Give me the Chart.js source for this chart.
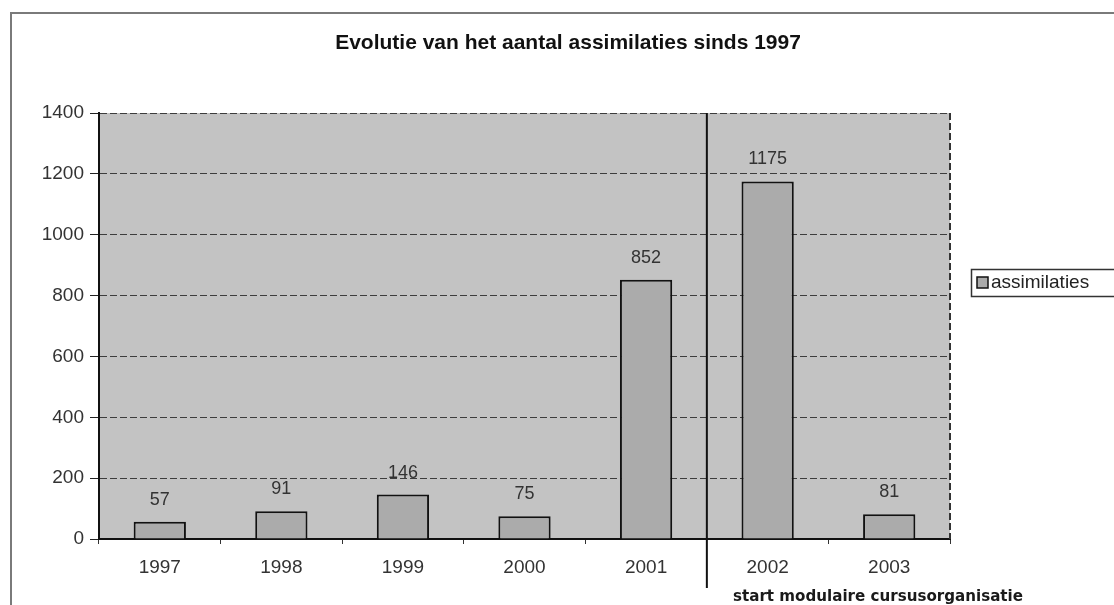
<!DOCTYPE html>
<html>
<head>
<meta charset="utf-8">
<script src="https://cdn.jsdelivr.net/npm/chart.js@4/dist/chart.umd.min.js"></script>
<style>
  html, body { margin: 0; padding: 0; background: #ffffff; }
  #wrap { width: 1114px; height: 605px; position: relative; }
</style>
</head>
<body>
<div id="wrap"><canvas id="chartAssimilaties"></canvas></div>
<script>
// Gegevens
var jaren = ['1997', '1998', '1999', '2000', '2001', '2002', '2003'];
var assimilaties = [57, 91, 146, 75, 852, 1175, 81];
var reeksNaam = 'assimilaties';
var titel = 'Evolutie van het aantal assimilaties sinds 1997';
var notitie = 'start modulaire cursusorganisatie';
var yTicks = [0, 200, 400, 600, 800, 1000, 1200, 1400];

var FONT = '"Liberation Sans", Arial, sans-serif';

// plotvlak grijs
var achtergrondPlugin = {
  id: 'achtergrond',
  beforeDraw: function(chart) {
    var ctx = chart.ctx, a = chart.chartArea;
    ctx.save();
    ctx.fillStyle = '#c3c3c3';
    ctx.fillRect(a.left, a.top, a.right - a.left, a.bottom - a.top);
    ctx.restore();
  }
};

// waarden boven de staven
var labelsPlugin = {
  id: 'waardeLabels',
  afterDatasetsDraw: function(chart) {
    var ctx = chart.ctx;
    var meta = chart.getDatasetMeta(0);
    ctx.save();
    ctx.font = '18px ' + FONT;
    ctx.fillStyle = '#333333';
    ctx.textAlign = 'center';
    ctx.textBaseline = 'middle';
    meta.data.forEach(function(bar, i) {
      ctx.fillText(String(assimilaties[i]), bar.x, bar.y - 22);
    });
    ctx.restore();
  }
};

// titel, scheidingslijn, notitie, legende, buitenkader
var extraPlugin = {
  id: 'extra',
  afterDraw: function(chart) {
    var ctx = chart.ctx, a = chart.chartArea;
    var x = chart.scales.x;
    ctx.save();

    // buitenkader
    ctx.strokeStyle = '#7a7a7a';
    ctx.lineWidth = 2;
    ctx.beginPath();
    ctx.moveTo(11, 605);
    ctx.lineTo(11, 13);
    ctx.lineTo(1114, 13);
    ctx.stroke();

    // rechterrand plotvlak (gestreept)
    ctx.strokeStyle = '#333333';
    ctx.lineWidth = 2;
    ctx.setLineDash([7, 3]);
    ctx.beginPath();
    ctx.moveTo(a.right, a.top);
    ctx.lineTo(a.right, a.bottom);
    ctx.stroke();
    ctx.setLineDash([]);

    // titel
    ctx.fillStyle = '#111111';
    ctx.font = 'bold 21px ' + FONT;
    ctx.textAlign = 'center';
    ctx.textBaseline = 'middle';
    ctx.fillText(titel, 568, 43);

    // scheidingslijn tussen 2001 en 2002
    var xs = (x.getPixelForValue(4) + x.getPixelForValue(5)) / 2;
    ctx.strokeStyle = '#111111';
    ctx.lineWidth = 2;
    ctx.beginPath();
    ctx.moveTo(xs, a.top);
    ctx.lineTo(xs, 588);
    ctx.stroke();

    // notitie onder 2002-2003
    ctx.font = 'bold 16px "DejaVu Sans", sans-serif';
    var w = ctx.measureText(notitie).width;
    ctx.save();
    ctx.translate(733, 597);
    ctx.scale(290 / w, 1);
    ctx.textAlign = 'left';
    ctx.fillStyle = '#1a1a1a';
    ctx.fillText(notitie, 0, 0);
    ctx.restore();

    // legende
    ctx.fillStyle = '#ffffff';
    ctx.fillRect(971, 269, 150, 27);
    ctx.strokeStyle = '#333333';
    ctx.lineWidth = 1.5;
    ctx.strokeRect(971.5, 269.5, 150, 27);
    ctx.fillStyle = '#aaaaaa';
    ctx.fillRect(977, 277, 11, 11);
    ctx.strokeStyle = '#111111';
    ctx.lineWidth = 1.5;
    ctx.strokeRect(977, 277, 11, 11);
    ctx.fillStyle = '#222222';
    ctx.font = '19px ' + FONT;
    ctx.textAlign = 'left';
    ctx.fillText(reeksNaam, 991, 283);

    ctx.restore();
  }
};

var canvas = document.getElementById('chartAssimilaties');
new Chart(canvas, {
  type: 'bar',
  data: {
    labels: jaren,
    datasets: [{
      label: reeksNaam,
      data: assimilaties,
      backgroundColor: '#ababab',
      borderColor: '#111111',
      borderWidth: 2,
      borderSkipped: 'bottom',
      barPercentage: 0.43,
      categoryPercentage: 1
    }]
  },
  options: {
    responsive: true,
    maintainAspectRatio: false,
    animation: false,
    layout: { padding: { top: 113, right: 164, bottom: 0, left: 0 } },
    plugins: {
      legend: { display: false },
      title: { display: false },
      tooltip: { enabled: false }
    },
    scales: {
      x: {
        afterFit: function(scale) { scale.height = 66; },
        grid: { drawOnChartArea: false, offset: true, tickLength: 5, tickColor: '#333333', tickWidth: 1 },
        border: { display: true, color: '#111111', width: 2 },
        ticks: { color: '#333333', font: { size: 19, family: FONT }, padding: 12 }
      },
      y: {
        min: 0,
        max: 1400,
        afterFit: function(scale) { scale.width = 99; },
        afterBuildTicks: function(scale) {
          scale.ticks = yTicks.map(function(v) { return { value: v }; });
        },
        grid: { color: '#3d3d3d', lineWidth: 1, tickLength: 9, tickColor: '#222222', tickWidth: 1 },
        border: { display: true, color: '#111111', width: 2, dash: [7, 3] },
        ticks: {
          color: '#333333',
          font: { size: 19, family: FONT },
          padding: 6,
          callback: function(v) { return String(v); }
        }
      }
    }
  },
  plugins: [achtergrondPlugin, labelsPlugin, extraPlugin]
});
</script>
</body>
</html>
